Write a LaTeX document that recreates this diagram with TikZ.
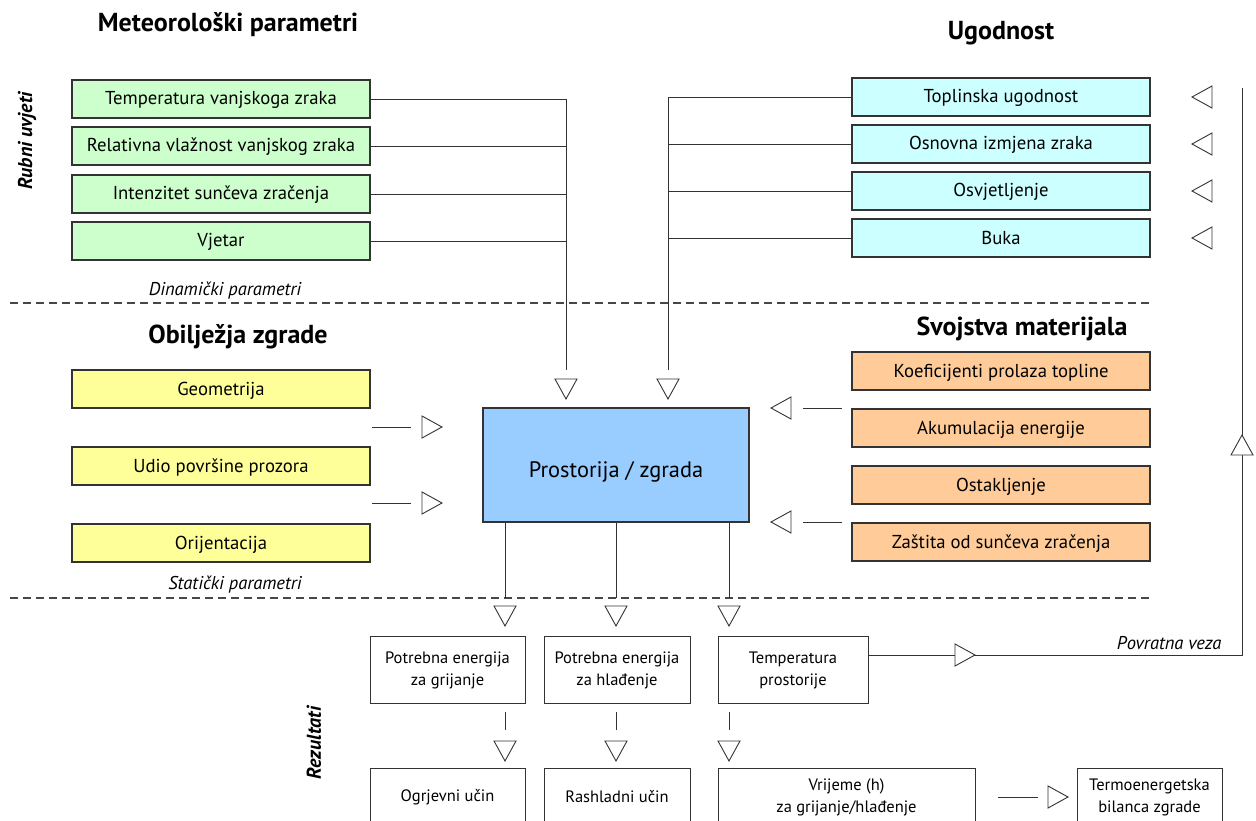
\documentclass[tikz,border=0pt]{standalone}
\usepackage{fontspec}
\setmainfont{PT Sans}
\usetikzlibrary{calc}
\definecolor{gbox}{HTML}{CCFFCC}
\definecolor{cbox}{HTML}{CCFFFF}
\definecolor{ybox}{HTML}{FFFF99}
\definecolor{obox}{HTML}{FFCC99}
\definecolor{bbox}{HTML}{99CCFF}
\definecolor{ln}{HTML}{333333}
\tikzset{
  x=1pt, y=-1pt,
  box/.style={draw=ln, line width=1.1pt, minimum width=298pt, minimum height=38pt, inner sep=0pt, text height=14pt, text depth=2pt, font=\fontsize{18.7}{22}\selectfont},
  res/.style={draw=ln, line width=1pt, align=center, inner sep=0pt, font=\fontsize{16.5}{22}\selectfont},
  conn/.style={draw=ln, line width=0.9pt},
  title/.style={font=\bfseries\fontsize{26}{30}\selectfont},
  note/.style={font=\itshape\fontsize{18.5}{22}\selectfont},
  vnote/.style={font=\bfseries\itshape\fontsize{20}{24}\selectfont, rotate=90},
  sepline/.style={draw=ln!90, line width=1.6pt, dash pattern=on 8pt off 5pt},
  tri/.style={draw=ln, line width=0.9pt, fill=white, line join=miter},
  tridown/.pic={\path[tri] (0,0) -- (-11,-20) -- (11,-20) -- cycle;},
  triup/.pic={\path[tri] (0,0) -- (-11,20) -- (11,20) -- cycle;},
  trileft/.pic={\path[tri] (0,0) -- (20,-11) -- (20,11) -- cycle;},
  triright/.pic={\path[tri] (0,0) -- (-20,-11) -- (-20,11) -- cycle;},
}
\begin{document}
\begin{tikzpicture}
\useasboundingbox (0,0) rectangle (1256,821);
\clip (0,0) rectangle (1256,821);
\fill[white] (0,0) rectangle (1256,821);

% titles
\node[title] (t1) at (228,25) {Meteorološki parametri};
\node[title] (t2) at (1001,33) {Ugodnost};
\node[title] (t3) at (238,337) {Obilježja zgrade};
\node[title] (t4) at (1022,329) {Svojstva materijala};
\node[vnote] (n1) at (27,141) {Rubni uvjeti};
\node[vnote] (n2) at (314,743) {Rezultati};
\node[note] (n3) at (225,291) {Dinamički parametri};
\node[note] (n4) at (235,585) {Statički parametri};
\node[note, anchor=east] (n5) at (1225,643) {Povratna veza};

% separators
\draw[sepline] (10,303) -- (1150,303);
\draw[sepline] (10,598) -- (1150,598);

% green boxes
\node[box, fill=gbox] (g1) at (221,99) {Temperatura vanjskoga zraka};
\node[box, fill=gbox] (g2) at (221,146) {Relativna vlažnost vanjskog zraka};
\node[box, fill=gbox] (g3) at (221,194) {Intenzitet sunčeva zračenja};
\node[box, fill=gbox] (g4) at (221,241) {Vjetar};

% cyan boxes
\node[box, fill=cbox] (c1) at (1001,97) {Toplinska ugodnost};
\node[box, fill=cbox] (c2) at (1001,144) {Osnovna izmjena zraka};
\node[box, fill=cbox] (c3) at (1001,191) {Osvjetljenje};
\node[box, fill=cbox] (c4) at (1001,238) {Buka};

% yellow boxes
\node[box, fill=ybox] (y1) at (221,389) {Geometrija};
\node[box, fill=ybox] (y2) at (221,466) {Udio površine prozora};
\node[box, fill=ybox] (y3) at (221,543) {Orijentacija};

% orange boxes
\node[box, fill=obox] (o1) at (1001,371) {Koeficijenti prolaza topline};
\node[box, fill=obox] (o2) at (1001,428) {Akumulacija energije};
\node[box, fill=obox] (o3) at (1001,485) {Ostakljenje};
\node[box, fill=obox] (o4) at (1001,542) {Zaštita od sunčeva zračenja};

% main box
\node[draw=ln, line width=1.2pt, fill=bbox, minimum width=266pt, minimum height=114pt, inner sep=0pt,
      text height=30pt, text depth=6pt, font=\fontsize{22.4}{26}\selectfont] (pz) at (616,465) {Prostorija / zgrada};

% results
\node[res, minimum width=155pt, minimum height=67pt] (r1) at (447.5,670) {Potrebna energija\\za grijanje};
\node[res, minimum width=146pt, minimum height=67pt] (r2) at (617,670) {Potrebna energija\\za hlađenje};
\node[res, minimum width=150pt, minimum height=67pt] (r3) at (793,670) {Temperatura\\prostorije};
\node[res, minimum width=155pt, minimum height=58pt] (b1) at (447.5,797) {Ogrjevni učin};
\node[res, minimum width=146pt, minimum height=58pt] (b2) at (617,797) {Rashladni učin};
\node[res, minimum width=257pt, minimum height=58pt] (b3) at (846.5,797) {Vrijeme (h)\\za grijanje/hlađenje};
\node[res, minimum width=145pt, minimum height=58pt] (b4) at (1149.5,797) {Termoenergetska\\bilanca zgrade};

% meteo connectors
\coordinate (mj) at (566,370);
\draw[conn] (g1.east) -| (mj);
\foreach \b in {g2,g3,g4} \draw[conn] (\b.east) -- (\b.east -| mj);
\pic at (566,399) {tridown};

% comfort connectors
\coordinate (uj) at (668,370);
\draw[conn] (c1.west) -| (uj);
\foreach \b in {c2,c3,c4} \draw[conn] (\b.west) -- (\b.west -| uj);
\pic at (668,399) {tridown};
\foreach \yy in {97,144,191,238} \pic at (1192,\yy) {trileft};

% building characteristics
\coordinate (ya1) at (372,427); \coordinate (ya2) at (411,427);
\coordinate (yb1) at (372,503); \coordinate (yb2) at (411,503);
\draw[conn] (ya1) -- (ya2); \pic at (442,427) {triright};
\draw[conn] (yb1) -- (yb2); \pic at (442,503) {triright};

% material properties
\coordinate (oa1) at (842,408); \coordinate (oa2) at (803,408);
\coordinate (ob1) at (842,522); \coordinate (ob2) at (803,522);
\draw[conn] (oa1) -- (oa2); \pic at (771,408) {trileft};
\draw[conn] (ob1) -- (ob2); \pic at (771,522) {trileft};

% outputs of main box
\coordinate (d1) at (505,598); \coordinate (d2) at (616,598); \coordinate (d3) at (729,598);
\foreach \d in {d1,d2,d3} \draw[conn] (pz.south -| \d) -- (\d);
\foreach \xx in {505,616,729} \pic at (\xx,626) {tridown};

% between result rows
\coordinate (e1) at (505,712); \coordinate (e2) at (616,712); \coordinate (e3) at (729,712);
\foreach \e in {e1,e2,e3} \draw[conn] (\e) -- ++(0,18);
\foreach \xx in {505,616,729} \pic at (\xx,761) {tridown};

% feedback
\coordinate (fb) at (1242,655);
\coordinate (fbtop) at (1242,88);
\draw[conn] (fb -| r3.east) -- (fb) -- (fbtop);
\pic at (975,655) {triright};
\pic at (1242,435) {triup};

% time -> balance
\coordinate (ta) at (998,797); \coordinate (tb) at (1038,797);
\draw[conn] (ta) -- (tb);
\pic at (1068,797) {triright};
\end{tikzpicture}
\end{document}
